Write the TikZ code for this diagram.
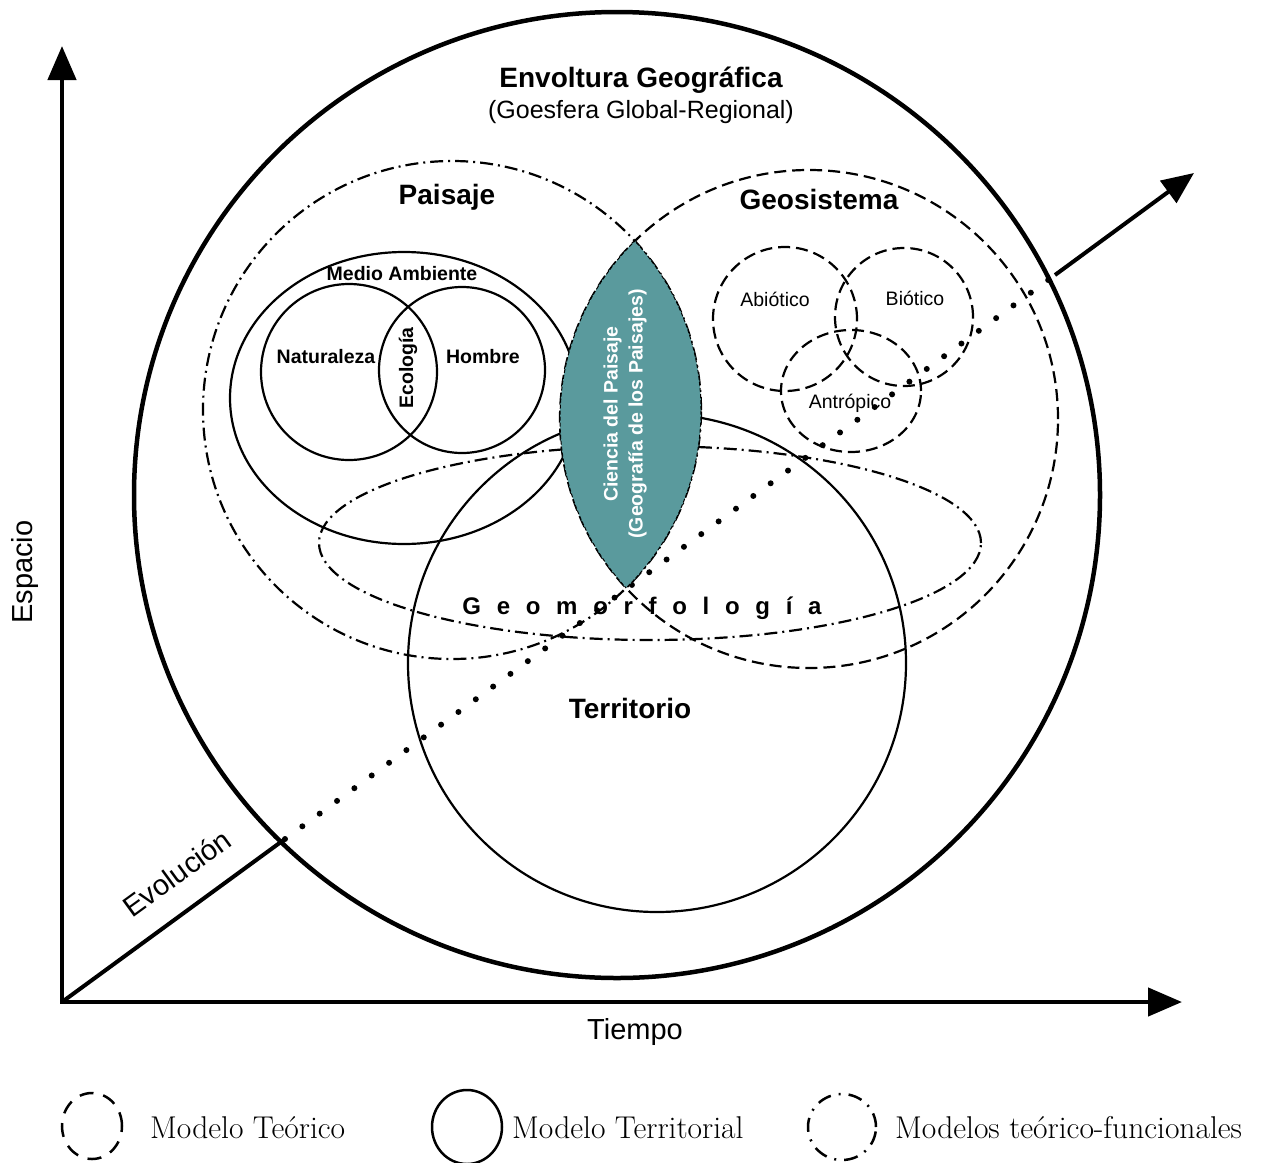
\documentclass[tikz,border=0pt]{standalone}
\usepackage{fontspec}
\setsansfont{Liberation Sans}
\usetikzlibrary{arrows.meta}
\definecolor{lente}{RGB}{90,154,157}

\begin{document}
\begin{tikzpicture}[x=1pt, y=-1pt,
    eje/.style={line width=4.5pt},
    territorial/.style={line width=2.2pt},
    teorico/.style={line width=2.2pt, dash pattern=on 12pt off 6pt},
    funcional/.style={line width=2.2pt, dash pattern=on 13pt off 5pt on 2pt off 5pt},
    borde/.style={line width=1pt, dash pattern=on 4pt off 2pt},
    grande/.style={font=\sffamily\bfseries\fontsize{28}{32}\selectfont, inner sep=0pt, anchor=base},
    medio/.style={font=\sffamily\bfseries\fontsize{19.5}{25}\selectfont, inner sep=0pt, anchor=base},
    fino/.style={font=\sffamily\fontsize{19.5}{24}\selectfont, inner sep=0pt, anchor=base},
    eti/.style={font=\sffamily\fontsize{29}{32}\selectfont, inner sep=0pt},
    leyenda/.style={font=\fontsize{31.5}{34}\selectfont, inner sep=0pt, anchor=base west}]
  \useasboundingbox (0,0) rectangle (1274,1162);

  \coordinate (O) at (62,1002);
  \coordinate (espacio) at (62,46);
  \coordinate (tiempo) at (1182,1002);
  \coordinate (ev1) at (285,839);
  \coordinate (ev2) at (1055,275);
  \coordinate (evolucion) at (1194,173);

  \coordinate (envolturaC) at (617,495);
  \coordinate (paisajeC) at (452,410);
  \coordinate (geosistemaC) at (809,419);
  \coordinate (ambienteC) at (404,398);
  \coordinate (naturalezaC) at (349,372);
  \coordinate (hombreC) at (462,370);
  \coordinate (abioticoC) at (785,319);
  \coordinate (bioticoC) at (904,317);
  \coordinate (antropicoC) at (851,391);
  \coordinate (territorioC) at (657,663);
  \coordinate (geomorfC) at (650,543);

  \draw[eje, {Triangle[length=34pt, width=28pt]}-{Triangle[length=34pt, width=28pt]}] (espacio) -- (O) -- (tiempo);
  \draw[line width=4pt] (O) -- (ev1);
  \draw[line width=6pt, line cap=round, dash pattern=on 0pt off 21.5pt] (ev1) -- (ev2);
  \draw[line width=4pt, -{Triangle[length=32pt, width=27pt]}] (ev2) -- (evolucion);

  \draw[line width=4.5pt] (envolturaC) circle[radius=483pt];
  \draw[funcional] (paisajeC) circle[radius=249pt];
  \draw[teorico] (geosistemaC) circle[radius=249pt];
  \draw[territorial] (ambienteC) ellipse[x radius=174pt, y radius=146pt];
  \draw[territorial] (naturalezaC) circle[radius=88pt];
  \draw[territorial] (hombreC) circle[radius=83pt];
  \draw[teorico] (abioticoC) circle[radius=72pt];
  \draw[teorico] (bioticoC) circle[radius=69pt];
  \draw[teorico] (antropicoC) ellipse[x radius=70pt, y radius=61pt];
  \draw[territorial] (territorioC) circle[radius=249pt];
  \draw[funcional] (geomorfC) ellipse[x radius=331pt, y radius=97pt];

  \begin{scope}
    \clip (paisajeC) circle[radius=249pt];
    \fill[lente] (geosistemaC) circle[radius=249pt];
    \draw[borde] (geosistemaC) circle[radius=249pt];
  \end{scope}
  \begin{scope}
    \clip (geosistemaC) circle[radius=249pt];
    \draw[borde] (paisajeC) circle[radius=249pt];
  \end{scope}

  \node[grande] (envoltura) at (641,87) {Envoltura Geográfica};
  \node[font=\sffamily\fontsize{25}{28}\selectfont, inner sep=0pt, anchor=base] (goesfera) at (641,118) {(Goesfera Global-Regional)};
  \node[grande] (paisaje) at (447,204) {Paisaje};
  \node[grande] (geosistema) at (819,209) {Geosistema};
  \node[grande] (territorio) at (630,718) {Territorio};
  \node[grande, font=\sffamily\bfseries\fontsize{24}{28}\selectfont] (geomorf) at (642,614) {\spaceskip=15.7pt G e o m o r f o l o g í a};
  \node[medio] (ambiente) at (402,280) {Medio Ambiente};
  \node[medio] (naturaleza) at (326,363) {Naturaleza};
  \node[medio] (hombre) at (483,363) {Hombre};
  \node[medio, anchor=center, rotate=90] (ecologia) at (408,368) {Ecología};
  \node[fino] (abiotico) at (775,306) {Abiótico};
  \node[fino] (biotico) at (915,305) {Biótico};
  \node[fino] (antropico) at (850,408) {Antrópico};
  \node[medio, anchor=center, rotate=90, align=center, text=white] (ciencia) at (625,414) {Ciencia del Paisaje\\(Geografía de los Paisajes)};

  \node[eti, rotate=90] (espacioL) at (25,572) {Espacio};
  \node[eti, anchor=base] (tiempoL) at (635,1039) {Tiempo};
  \node[eti, rotate=36] (evolucionL) at (177,873) {Evolución};

  \draw[teorico, line width=2.5pt, dash pattern=on 14pt off 10pt] (92,1126) ellipse[x radius=30pt, y radius=33pt];
  \node[leyenda] (leyTeorico) at (150,1138) {Modelo Teórico};
  \draw[territorial, line width=2.5pt] (467,1127) ellipse[x radius=35pt, y radius=37pt];
  \node[leyenda] (leyTerritorial) at (512,1138) {Modelo Territorial};
  \draw[funcional, line width=2.5pt, dash pattern=on 14pt off 8pt on 2pt off 8pt] (842,1127) ellipse[x radius=34pt, y radius=33pt];
  \node[leyenda] (leyFuncional) at (895,1138) {Modelos teórico-funcionales};
\end{tikzpicture}
\end{document}
